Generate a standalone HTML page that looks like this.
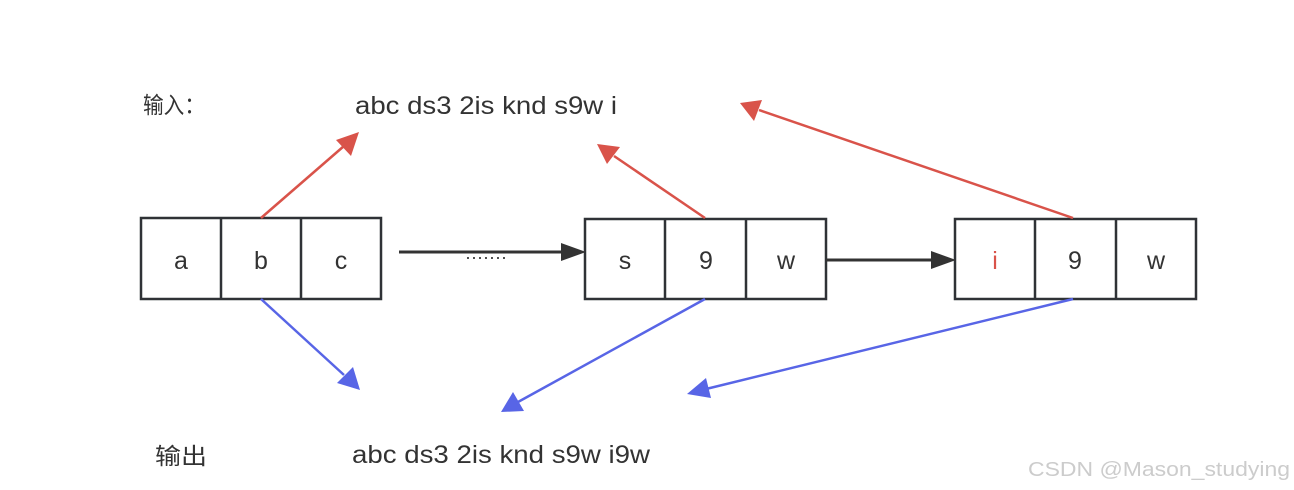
<!DOCTYPE html>
<html><head><meta charset="utf-8"><style>
html,body{margin:0;padding:0;background:#fff;width:1294px;height:490px;overflow:hidden}
svg{display:block}
text{font-family:"Liberation Sans","Noto Sans CJK SC",sans-serif;fill:#333}
</style></head><body>
<svg width="1294" height="490" viewBox="0 0 1294 490" xmlns="http://www.w3.org/2000/svg">
<text x="143" y="113" font-size="23" textLength="62" lengthAdjust="spacingAndGlyphs">输入：</text>
<text x="355" y="114" font-size="25" textLength="262" lengthAdjust="spacingAndGlyphs">abc ds3 2is knd s9w i</text>
<text x="155" y="464" font-size="23" textLength="52" lengthAdjust="spacingAndGlyphs">输出</text>
<text x="352" y="463" font-size="25" textLength="298" lengthAdjust="spacingAndGlyphs">abc ds3 2is knd s9w i9w</text>
<text x="1028" y="476" font-size="20" style="fill:#ccc" textLength="262" lengthAdjust="spacingAndGlyphs">CSDN @Mason_studying</text>
<g fill="#fff" stroke="#2f3236" stroke-width="2.5">
<rect x="141" y="218" width="240" height="81"/>
<line x1="221" y1="218" x2="221" y2="299"/><line x1="301" y1="218" x2="301" y2="299"/>
<rect x="585" y="219" width="241" height="80"/>
<line x1="665" y1="219" x2="665" y2="299"/><line x1="746" y1="219" x2="746" y2="299"/>
<rect x="955" y="219" width="241" height="80"/>
<line x1="1035" y1="219" x2="1035" y2="299"/><line x1="1116" y1="219" x2="1116" y2="299"/>
</g>
<g font-size="25" text-anchor="middle">
<text x="181" y="269">a</text><text x="261" y="269">b</text><text x="341" y="269">c</text>
<text x="625" y="269">s</text><text x="706" y="269">9</text><text x="786" y="269">w</text>
<text x="995" y="269" style="fill:#d9534a">i</text><text x="1075" y="269">9</text><text x="1156" y="269">w</text>
</g>
<text x="486" y="263" font-size="18" text-anchor="middle">·······</text>
<g stroke="#333" stroke-width="3">
<line x1="399" y1="252" x2="564" y2="252"/>
<line x1="826" y1="260" x2="934" y2="260"/>
</g>
<polygon points="586,252 561,243 561,261" fill="#333"/>
<polygon points="956,260 931,251 931,269" fill="#333"/>
<g stroke="#d9534a" stroke-width="2.5">
<line x1="261" y1="218" x2="344" y2="146"/>
<line x1="705" y1="218" x2="614" y2="156"/>
<line x1="1073" y1="218" x2="759" y2="110"/>
</g>
<g fill="#d9534a">
<polygon points="359,132 336,140 351,156"/>
<polygon points="597,144 607,164 620,147"/>
<polygon points="740,103 754,121 762,100"/>
</g>
<g stroke="#5865e6" stroke-width="2.5">
<line x1="261" y1="299" x2="344" y2="375"/>
<line x1="705" y1="299" x2="518" y2="402"/>
<line x1="1073" y1="299" x2="706" y2="389"/>
</g>
<g fill="#5865e6">
<polygon points="360,390 353,367 337,383"/>
<polygon points="501,412 524,411 513,392"/>
<polygon points="687,394 711,398 706,378"/>
</g>
</svg>
</body></html>
